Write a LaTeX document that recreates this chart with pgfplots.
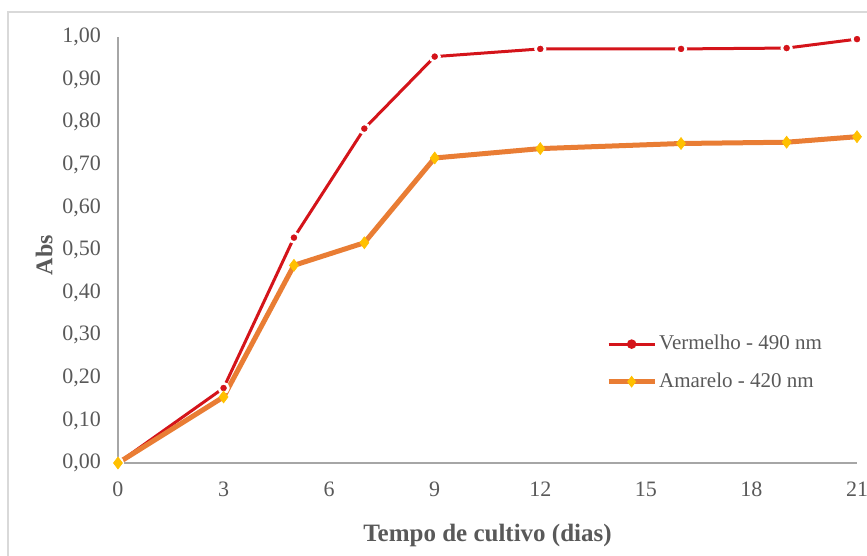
\documentclass[border=0pt]{standalone}
\usepackage{pgfplots}
\pgfplotsset{compat=1.18}
\usepackage{fontspec}
\setmainfont{Liberation Serif}

\definecolor{redline}{RGB}{212,20,26}
\definecolor{orangeline}{RGB}{233,125,52}
\definecolor{yellowmark}{RGB}{255,192,0}
\definecolor{axisgray}{RGB}{166,166,166}
\definecolor{labelgray}{RGB}{89,89,89}
\definecolor{framegray}{RGB}{217,217,217}

\pgfplotstableread{
x y
0 0.000
3 0.176
5 0.529
7 0.785
9 0.954
12 0.972
16 0.972
19 0.974
21 0.995
}\vermelho

\pgfplotstableread{
x y
0 0.000
3 0.155
5 0.464
7 0.517
9 0.716
12 0.738
16 0.750
19 0.753
21 0.766
}\amarelo

\begin{document}
\begin{tikzpicture}
% page extent and outer chart frame
\path[use as bounding box] (-59pt,-46.5pt) rectangle (374.5pt,231.5pt);
\draw[framegray, line width=0.6pt] (-55pt,-46.5pt) -- (-55pt,225.5pt) -- (374.5pt,225.5pt);
\begin{axis}[
  scale only axis,
  width=369.5pt, height=213pt,
  xmin=0, xmax=21, ymin=0, ymax=1,
  axis x line=bottom, axis y line=left,
  axis line style={axisgray, line width=0.8pt, -},
  xtick={0,3,...,21},
  ytick={0,0.1,...,1.01},
  major tick length=0pt,
  tick label style={font=\fontsize{11}{13}\selectfont, text=labelgray},
  xticklabel style={yshift=-6pt},
  yticklabel style={xshift=-5pt},
  /pgf/number format/assume math mode=true,
  yticklabel style={/pgf/number format/.cd, fixed, fixed zerofill, precision=2, use comma},
  xlabel={\textbf{Tempo de cultivo (dias)}},
  xlabel style={font=\fontsize{12.5}{15}\selectfont, text=labelgray, at={(axis description cs:0.5,-0.17)}, anchor=center},
  ylabel={\textbf{Abs}},
  ylabel style={font=\fontsize{12}{14}\selectfont, text=labelgray, at={(axis description cs:-0.1,0.488)}, anchor=center},
  legend style={at={(axis description cs:0.66,0.31)}, anchor=north west, draw=none, fill=none,
    font=\fontsize{10.5}{12}\selectfont, text=labelgray, row sep=6pt,
    inner sep=0pt, nodes={inner xsep=1pt}},
  legend cell align=left,
  legend image code/.code={
    \draw[#1, mark=none] (0pt,0pt) -- (23pt,0pt);
    \draw[#1, draw opacity=0] plot coordinates {(11.5pt,0pt)};
  },
  clip=false,
]
% red series: round marks with a white rim that breaks the line
\addplot[redline, line width=1.5pt, mark=*, mark size=2.4pt,
  mark options={fill=redline, draw=white, line width=1.3pt}] table[x=x, y=y] {\vermelho};
\addlegendentry{Vermelho - 490 nm}
\addplot[orangeline, line width=2.5pt, mark=diamond*, mark size=3pt,
  mark options={fill=yellowmark, draw=yellowmark, line width=0.3pt}] table[x=x, y=y] {\amarelo};
\addlegendentry{Amarelo - 420 nm}
\end{axis}
\end{tikzpicture}
\end{document}
